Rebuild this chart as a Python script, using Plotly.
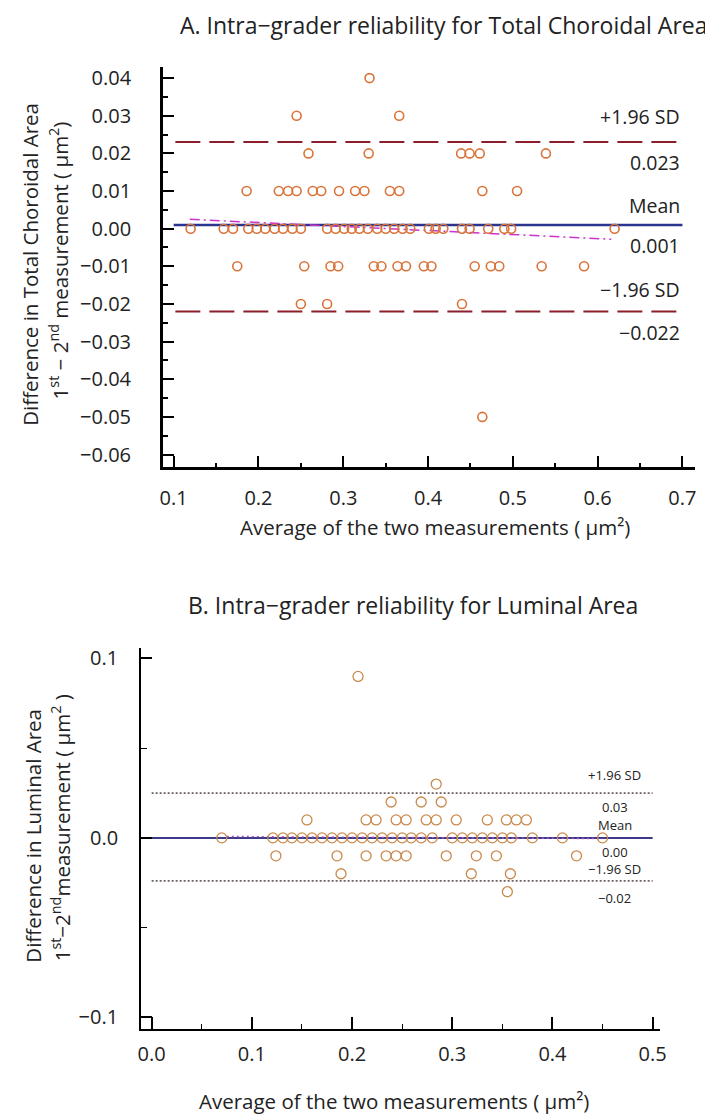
import plotly.graph_objects as go

# ---------------- Panel A data: Total Choroidal Area ----------------
a_avg_p04 = [0.331]
a_avg_p03 = [0.245, 0.366]
a_avg_p02 = [0.259, 0.330, 0.439, 0.449, 0.461, 0.539]
a_avg_p01 = [0.186, 0.224, 0.235, 0.245, 0.264, 0.274, 0.295, 0.314, 0.325, 0.355, 0.366, 0.464, 0.505]
a_avg_z = [0.120, 0.159, 0.170, 0.188, 0.198, 0.208, 0.219, 0.229, 0.240, 0.250,
           0.281, 0.291, 0.301, 0.310, 0.319, 0.329, 0.340, 0.350, 0.360, 0.370,
           0.379, 0.401, 0.409, 0.418, 0.440, 0.449, 0.471, 0.490, 0.498, 0.620]
a_avg_m01 = [0.175, 0.254, 0.285, 0.294, 0.336, 0.345, 0.364, 0.374, 0.395, 0.404,
             0.455, 0.474, 0.484, 0.534, 0.584]
a_avg_m02 = [0.250, 0.281, 0.440]
a_avg_m05 = [0.464]
a_levels = [0.04, 0.03, 0.02, 0.01, 0.00, -0.01, -0.02, -0.05]
a_groups = [a_avg_p04, a_avg_p03, a_avg_p02, a_avg_p01, a_avg_z, a_avg_m01, a_avg_m02, a_avg_m05]

a_mean = 0.001
a_upper = 0.023
a_lower = -0.022
a_reg_x = [0.119, 0.616]
a_reg_y = [0.0025, -0.0028]
a_line_x = [0.1, 0.7]
a_labels = ["+1.96 SD", "0.023", "Mean", "0.001", "\u22121.96 SD", "\u22120.022"]

# ---------------- Panel B data: Luminal Area ----------------
b_avg_p09 = [0.206]
b_avg_p03 = [0.284]
b_avg_p02 = [0.239, 0.269, 0.289]
b_avg_p01 = [0.155, 0.214, 0.224, 0.244, 0.254, 0.274, 0.284, 0.304, 0.335, 0.354, 0.364, 0.374]
b_avg_z = [0.070, 0.121, 0.131, 0.140, 0.150, 0.160, 0.170, 0.180, 0.190, 0.200, 0.210,
           0.220, 0.230, 0.240, 0.250, 0.259, 0.269, 0.280, 0.300, 0.310, 0.320, 0.330,
           0.340, 0.350, 0.359, 0.380, 0.410, 0.450]
b_avg_m01 = [0.124, 0.185, 0.214, 0.234, 0.244, 0.254, 0.294, 0.324, 0.344, 0.424]
b_avg_m02 = [0.189, 0.319, 0.358]
b_avg_m03 = [0.355]
b_levels = [0.09, 0.03, 0.02, 0.01, 0.00, -0.01, -0.02, -0.03]
b_groups = [b_avg_p09, b_avg_p03, b_avg_p02, b_avg_p01, b_avg_z, b_avg_m01, b_avg_m02, b_avg_m03]

b_mean = 0.0
b_upper = 0.025
b_lower = -0.024
b_reg_x = [0.075, 0.45]
b_reg_y = [0.0008, -0.0004]
b_line_x = [0.0, 0.5]
b_labels = ["+1.96 SD", "0.03", "Mean", "0.00", "\u22121.96 SD", "\u22120.02"]

# page body has an 8px default margin: figure is sized / positioned for that
OFF = 8
W, H = 713 - OFF, 1117 - OFF
FONT = "Open Sans"
TXT = "#222222"
TICK = 20
AXT = 20.5
TTL = 23


def flat(groups, levels):
    xs, ys = [], []
    for g, lv in zip(groups, levels):
        for v in g:
            xs.append(v)
            ys.append(lv)
    return xs, ys


def px_x(p):
    return (p - OFF) / W


def px_y(p):
    return 1 - (p - OFF) / H


fig = go.Figure()

# ---- Panel A traces ----
for yv in [a_upper, a_lower]:
    fig.add_trace(go.Scatter(x=[0.102, 0.699], y=[yv, yv], mode="lines",
                             line=dict(color="#8B1E2A", width=2, dash="25px,9px"),
                             xaxis="x", yaxis="y", hoverinfo="skip"))
fig.add_trace(go.Scatter(x=a_line_x, y=[a_mean, a_mean], mode="lines",
                         line=dict(color="#2A3590", width=2.5),
                         xaxis="x", yaxis="y"))
fig.add_trace(go.Scatter(x=a_reg_x, y=a_reg_y, mode="lines",
                         line=dict(color="#CC33CC", width=1.5, dash="10px,4px,2px,4px"),
                         xaxis="x", yaxis="y"))
ax, ay = flat(a_groups, a_levels)
fig.add_trace(go.Scatter(x=ax, y=ay, mode="markers",
                         marker=dict(symbol="circle-open", size=9, color="#D9743A",
                                     line=dict(width=1.6)),
                         xaxis="x", yaxis="y"))

# ---- Panel B traces ----
for yv in [b_upper, b_lower]:
    fig.add_trace(go.Scatter(x=b_line_x, y=[yv, yv], mode="lines",
                             line=dict(color="#6E5F60", width=1.8, dash="2px,2px"),
                             xaxis="x2", yaxis="y2"))
fig.add_trace(go.Scatter(x=[0.0, 0.5], y=[b_mean, b_mean], mode="lines",
                         line=dict(color="#3A3A88", width=2),
                         xaxis="x2", yaxis="y2"))
fig.add_trace(go.Scatter(x=b_reg_x, y=b_reg_y, mode="lines",
                         line=dict(color="#B050C8", width=1.4, dash="2px,3px"),
                         xaxis="x2", yaxis="y2"))
bx, by = flat(b_groups, b_levels)
fig.add_trace(go.Scatter(x=bx, y=by, mode="markers",
                         marker=dict(symbol="circle-open", size=10, color="#C98A4E",
                                     line=dict(width=1.3)),
                         xaxis="x2", yaxis="y2"))

axis_common = dict(showline=True, linecolor="black", showgrid=False, zeroline=False,
                   ticks="inside", tickcolor="black", mirror=False,
                   tickfont=dict(family=FONT, size=TICK, color=TXT))

fig.update_layout(
    width=W, height=H, margin=dict(l=0, r=0, t=0, b=0),
    paper_bgcolor="white", plot_bgcolor="white", showlegend=False,
    font=dict(family=FONT, color=TXT),
    xaxis=dict(**axis_common, domain=[px_x(162), px_x(702)], range=[0.0872, 0.715],
               anchor="y", linewidth=2.5, tickwidth=2, ticklen=12,
               tick0=0.1, dtick=0.1, tickformat=".1f", ticklabelstandoff=11,
               minor=dict(dtick=0.05, tick0=0.05, ticks="inside", ticklen=5,
                          tickwidth=1.5, tickcolor="black")),
    yaxis=dict(**axis_common, domain=[px_y(466), px_y(64)], range=[-0.0634, 0.043],
               anchor="x", linewidth=2.5, tickwidth=2, ticklen=11,
               tick0=0, dtick=0.01, tickformat=".2f", ticklabelstandoff=25,
               minor=dict(dtick=0.005, tick0=0.005, ticks="inside", ticklen=5,
                          tickwidth=1.5, tickcolor="black")),
    xaxis2=dict(**axis_common, domain=[px_x(140), px_x(666)], range=[-0.0105, 0.507],
                anchor="y2", linewidth=2, tickwidth=1.5, ticklen=12,
                tick0=0, dtick=0.1, tickformat=".1f", ticklabelstandoff=6,
                minor=dict(dtick=0.05, tick0=0.05, ticks="inside", ticklen=5,
                           tickwidth=1.2, tickcolor="black")),
    yaxis2=dict(**axis_common, domain=[px_y(1030), px_y(647)], range=[-0.1067, 0.106],
                anchor="x2", linewidth=2, tickwidth=1.5, ticklen=11,
                tick0=0, dtick=0.1, tickformat=".1f", ticklabelstandoff=17,
                minor=dict(dtick=0.05, tick0=0.05, ticks="inside", ticklen=6,
                           tickwidth=1.2, tickcolor="black")),
)

ann = []


def add_text(x, y, text, size, angle=0, xanchor="center"):
    ann.append(dict(x=x, y=y, xref="paper", yref="paper", text=text, showarrow=False,
                    textangle=angle, xanchor=xanchor, yanchor="middle",
                    font=dict(family=FONT, size=size, color=TXT)))


# titles
add_text(px_x(447), px_y(22), "A. Intra\u2212grader reliability for Total Choroidal Area", TTL)
add_text(px_x(416), px_y(604), "B. Intra\u2212grader reliability for Luminal Area", TTL)
# x-axis titles
add_text(px_x(438), px_y(526), "Average of the two measurements ( \u03bcm\u00b2)", AXT)
add_text(px_x(397), px_y(1102), "Average of the two measurements ( \u03bcm\u00b2)", AXT)
# y-axis titles
add_text(px_x(27), px_y(262), "Difference in Total Choroidal Area", AXT, -90)
add_text(px_x(57), px_y(258), "1<sup>st</sup> \u2212 2<sup>nd</sup> measurement ( \u03bcm<sup>2</sup>)", AXT, -90)
add_text(px_x(30), px_y(836), "Difference in Luminal Area", AXT, -90)
add_text(px_x(59), px_y(828), "1<sup>st</sup>\u22122<sup>nd</sup>measurement ( \u03bcm<sup>2</sup> )", AXT, -90)

fig.update_layout(annotations=ann)

# limit labels panel A (data coords)
a_lab_y = [a_upper, a_upper, a_mean, a_mean, a_lower, a_lower]
a_shift = [26, -20, 19, -21, 22, -21]
for t, yv, s in zip(a_labels, a_lab_y, a_shift):
    fig.add_annotation(x=0.7, y=yv, xref="x", yref="y", text=t, showarrow=False,
                       xanchor="right", yanchor="middle", yshift=s,
                       font=dict(family=FONT, size=19.5, color=TXT))

b_lab_y = [b_upper, b_upper, b_mean, b_mean, b_lower, b_lower]
b_shift = [18, -14, 13, -14, 12, -17]
for t, yv, s in zip(b_labels, b_lab_y, b_shift):
    fig.add_annotation(x=0.462, y=yv, xref="x2", yref="y2", text=t, showarrow=False,
                       xanchor="center", yanchor="middle", yshift=s,
                       font=dict(family=FONT, size=13, color=TXT))

fig.write_html("out.html")
